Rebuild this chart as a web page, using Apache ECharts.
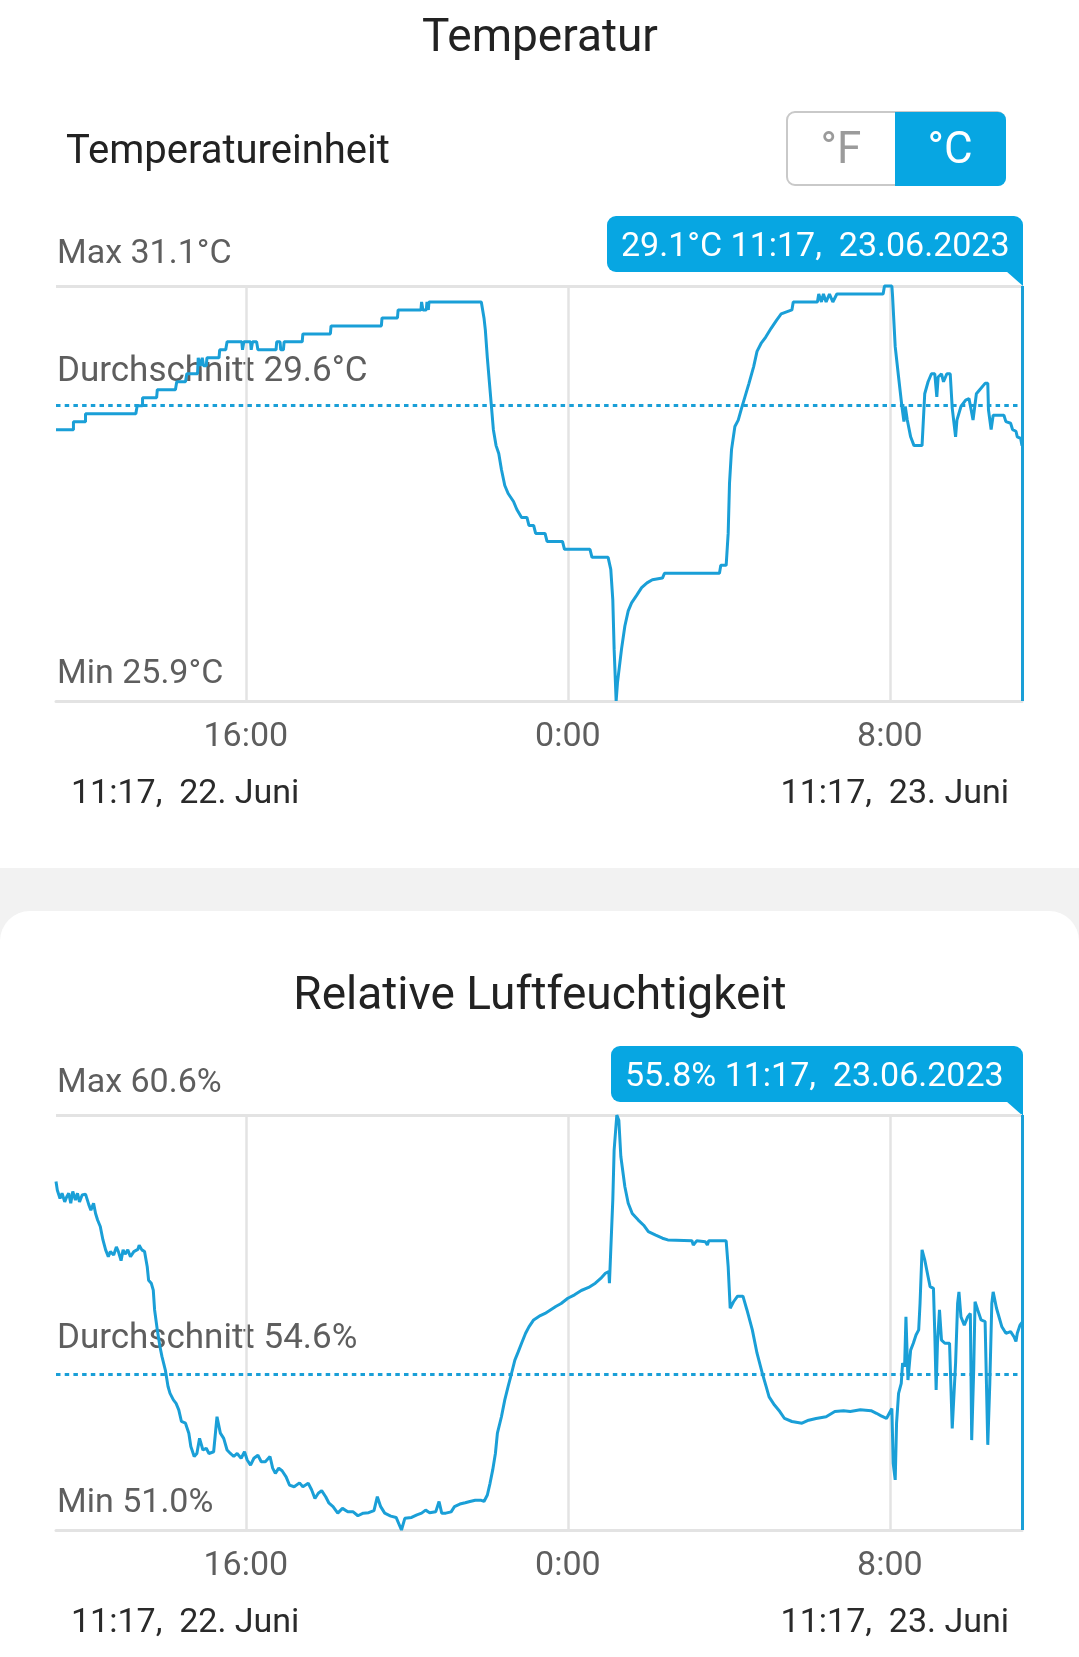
<!DOCTYPE html>
<html>
<head>
<meta charset="utf-8">
<title>Temperatur / Luftfeuchtigkeit</title>
<script src="https://cdn.jsdelivr.net/npm/echarts@6/dist/echarts.min.js"></script>
<style>
  html, body { margin: 0; padding: 0; background: #fff; }
  #chart { width: 1079px; height: 1657px; }
</style>
</head>
<body>
<div id="chart"></div>
<script>
// --- data (clock time, value) ---
const tempTimes = ['11:17', '11:43', '11:43', '12:01', '12:01', '13:16', '13:18', '13:26', '13:26', '13:47',
  '13:48', '14:15', '14:17', '14:30', '14:32', '14:48', '14:49', '14:52', '14:55', '14:57',
  '15:01', '15:02', '15:20', '15:21', '15:30', '15:32', '15:54', '15:55', '15:57', '16:07',
  '16:08', '16:10', '16:16', '16:18', '16:45', '16:46', '16:51', '16:52', '16:56', '16:57',
  '17:24', '17:25', '18:06', '18:07', '19:22', '19:23', '19:46', '19:47', '20:21', '20:22',
  '20:24', '20:29', '20:30', '20:32', '20:33', '21:51', '21:55', '21:57', '22:00', '22:03',
  '22:06', '22:09', '22:13', '22:17', '22:21', '22:26', '22:31', '22:39', '22:44', '22:51',
  '22:59', '23:02', '23:09', '23:12', '23:26', '23:29', '23:52', '23:55', '0:33', '0:36',
  '1:00', '1:04', '1:07', '1:09', '1:12', '1:14', '1:20', '1:25', '1:30', '1:35',
  '1:43', '1:50', '1:58', '2:06', '2:21', '2:24', '3:46', '3:48', '3:56', '3:59',
  '4:01', '4:04', '4:09', '4:14', '4:19', '4:24', '4:30', '4:37', '4:42', '4:48',
  '4:55', '5:03', '5:11', '5:18', '5:34', '5:36', '6:12', '6:14', '6:18', '6:21',
  '6:25', '6:30', '6:35', '6:41', '7:50', '7:52', '8:03', '8:04', '8:08', '8:13',
  '8:18', '8:21', '8:23', '8:26', '8:31', '8:36', '8:48', '8:52', '8:57', '9:02',
  '9:07', '9:10', '9:12', '9:17', '9:20', '9:25', '9:30', '9:33', '9:38', '9:40',
  '9:46', '9:53', '9:58', '10:04', '10:09', '10:14', '10:22', '10:26', '10:27', '10:31',
  '10:34', '10:50', '10:53', '11:00', '11:03', '11:08', '11:10', '11:15', '11:17'];
const tempValues = [29.3, 29.3, 29.4, 29.4, 29.5, 29.5, 29.6, 29.6, 29.7, 29.7,
  29.8, 29.8, 29.9, 29.9, 30.0, 30.0, 30.2, 30.1, 30.2, 30.1,
  30.1, 30.2, 30.2, 30.3, 30.3, 30.4, 30.4, 30.3, 30.4, 30.4,
  30.3, 30.4, 30.4, 30.3, 30.3, 30.4, 30.4, 30.3, 30.3, 30.4,
  30.4, 30.5, 30.5, 30.6, 30.6, 30.7, 30.7, 30.8, 30.8, 30.9,
  30.8, 30.8, 30.9, 30.8, 30.9, 30.9, 30.7, 30.55, 30.2, 29.9,
  29.6, 29.3, 29.1, 29.0, 28.8, 28.6, 28.5, 28.4, 28.3, 28.2,
  28.2, 28.1, 28.1, 28.0, 28.0, 27.9, 27.9, 27.8, 27.8, 27.7,
  27.7, 27.55, 27.17, 26.55, 25.9, 26.13, 26.55, 26.84, 27.03, 27.13,
  27.23, 27.32, 27.38, 27.42, 27.44, 27.5, 27.5, 27.6, 27.6, 28.0,
  28.63, 29.05, 29.34, 29.42, 29.57, 29.71, 29.88, 30.09, 30.28, 30.38,
  30.46, 30.57, 30.67, 30.75, 30.8, 30.9, 30.9, 31.0, 30.9, 31.0,
  30.9, 31.0, 30.9, 31.0, 31.0, 31.1, 31.1, 30.98, 30.34, 29.96,
  29.59, 29.4, 29.59, 29.42, 29.21, 29.1, 29.1, 29.75, 29.9, 30.0,
  30.0, 29.71, 29.96, 30.0, 29.9, 30.0, 30.0, 29.57, 29.21, 29.42,
  29.59, 29.67, 29.69, 29.42, 29.75, 29.8, 29.88, 29.88, 29.55, 29.3,
  29.48, 29.48, 29.4, 29.38, 29.3, 29.28, 29.21, 29.19, 29.1];

const humTimes = ['11:17', '11:19', '11:23', '11:26', '11:30', '11:33', '11:36', '11:39', '11:42', '11:46',
  '11:49', '11:52', '11:56', '12:01', '12:06', '12:09', '12:13', '12:16', '12:19', '12:23',
  '12:27', '12:31', '12:35', '12:38', '12:43', '12:47', '12:50', '12:54', '12:57', '13:00',
  '13:04', '13:08', '13:13', '13:19', '13:21', '13:25', '13:29', '13:33', '13:35', '13:39',
  '13:42', '13:44', '13:48', '13:52', '13:55', '14:00', '14:04', '14:07', '14:12', '14:16',
  '14:20', '14:24', '14:30', '14:35', '14:38', '14:43', '14:47', '14:51', '14:56', '15:01',
  '15:05', '15:12', '15:17', '15:22', '15:27', '15:32', '15:37', '15:42', '15:47', '15:53',
  '15:58', '16:02', '16:07', '16:12', '16:18', '16:23', '16:29', '16:36', '16:40', '16:44',
  '16:49', '16:54', '17:00', '17:05', '17:12', '17:20', '17:25', '17:33', '17:38', '17:43',
  '17:48', '17:53', '17:59', '18:04', '18:10', '18:17', '18:24', '18:32', '18:40', '18:47',
  '18:55', '19:03', '19:11', '19:16', '19:21', '19:27', '19:36', '19:44', '19:52', '19:57',
  '20:07', '20:15', '20:22', '20:28', '20:34', '20:43', '20:48', '20:52', '20:58', '21:06',
  '21:11', '21:19', '21:27', '21:34', '21:42', '21:50', '21:55', '22:00', '22:04', '22:08',
  '22:12', '22:15', '22:21', '22:26', '22:31', '22:36', '22:41', '22:46', '22:51', '22:57',
  '23:02', '23:09', '23:19', '23:26', '23:34', '23:42', '23:50', '0:00', '0:10', '0:20',
  '0:31', '0:41', '0:49', '0:56', '1:01', '1:02', '1:04', '1:07', '1:09', '1:13',
  '1:16', '1:19', '1:25', '1:30', '1:36', '1:45', '1:53', '2:00', '2:11', '2:21',
  '2:29', '3:05', '3:07', '3:12', '3:25', '3:28', '3:30', '3:56', '3:59', '4:02',
  '4:07', '4:13', '4:21', '4:27', '4:35', '4:42', '4:50', '4:55', '5:00', '5:08',
  '5:16', '5:23', '5:34', '5:49', '5:59', '6:10', '6:25', '6:38', '6:51', '7:01',
  '7:16', '7:32', '7:40', '7:47', '7:55', '8:03', '8:05', '8:08', '8:10', '8:13',
  '8:17', '8:19', '8:22', '8:24', '8:27', '8:31', '8:35', '8:39', '8:43', '8:45',
  '8:48', '8:52', '8:57', '9:00', '9:05', '9:07', '9:09', '9:11', '9:14', '9:17',
  '9:22', '9:29', '9:33', '9:38', '9:41', '9:43', '9:46', '9:51', '9:56', '10:00',
  '10:02', '10:05', '10:07', '10:11', '10:16', '10:22', '10:26', '10:29', '10:32', '10:34',
  '10:39', '10:47', '10:53', '11:00', '11:05', '11:08', '11:10', '11:14', '11:17'];
const humValues = [59.06, 58.86, 58.67, 58.79, 58.59, 58.71, 58.79, 58.56, 58.83, 58.63,
  58.79, 58.59, 58.75, 58.77, 58.52, 58.40, 58.56, 58.32, 58.17, 58.02,
  57.71, 57.48, 57.32, 57.44, 57.36, 57.55, 57.44, 57.23, 57.48, 57.38,
  57.48, 57.32, 57.44, 57.49, 57.59, 57.48, 57.44, 57.09, 56.78, 56.71,
  56.55, 56.09, 55.63, 55.24, 55.01, 54.70, 54.32, 54.16, 54.01, 53.93,
  53.78, 53.51, 53.47, 53.24, 52.93, 52.70, 52.77, 53.12, 52.85, 52.89,
  52.77, 52.81, 53.62, 53.24, 53.12, 52.85, 52.77, 52.70, 52.77, 52.66,
  52.81, 52.62, 52.50, 52.66, 52.73, 52.58, 52.58, 52.70, 52.43, 52.31,
  52.43, 52.37, 52.23, 52.04, 52.00, 52.09, 52.00, 52.08, 51.93, 51.73,
  51.85, 51.91, 51.77, 51.62, 51.54, 51.39, 51.50, 51.42, 51.42, 51.33,
  51.39, 51.40, 51.45, 51.77, 51.54, 51.39, 51.32, 51.29, 51.00, 51.27,
  51.29, 51.35, 51.39, 51.46, 51.40, 51.42, 51.66, 51.39, 51.39, 51.42,
  51.54, 51.60, 51.63, 51.66, 51.69, 51.69, 51.66, 51.81, 52.08, 52.39,
  52.77, 53.24, 53.62, 54.01, 54.32, 54.62, 54.93, 55.12, 55.32, 55.55,
  55.70, 55.86, 55.96, 56.01, 56.09, 56.17, 56.24, 56.36, 56.44, 56.54,
  56.61, 56.71, 56.82, 56.94, 56.98, 56.71, 57.48, 58.63, 59.79, 60.6,
  60.48, 59.64, 58.94, 58.56, 58.32, 58.17, 58.05, 57.90, 57.82, 57.75,
  57.71, 57.69, 57.59, 57.69, 57.67, 57.59, 57.69, 57.69, 57.09, 56.13,
  56.28, 56.41, 56.41, 56.09, 55.63, 55.09, 54.62, 54.35, 54.08, 53.89,
  53.74, 53.58, 53.51, 53.47, 53.54, 53.58, 53.62, 53.74, 53.76, 53.74,
  53.78, 53.76, 53.70, 53.64, 53.58, 53.81, 52.54, 52.16, 53.47, 54.16,
  54.39, 54.86, 54.78, 55.93, 54.47, 55.16, 55.32, 55.51, 55.63, 56.24,
  57.48, 57.25, 56.86, 56.63, 56.59, 55.55, 54.24, 55.32, 56.09, 55.39,
  55.32, 55.32, 53.35, 54.86, 56.24, 56.51, 55.93, 55.74, 55.93, 56.01,
  53.08, 54.70, 56.28, 56.09, 55.86, 55.82, 52.97, 54.39, 56.24, 56.51,
  56.13, 55.70, 55.55, 55.59, 55.47, 55.36, 55.55, 55.74, 55.8];

// min / average / max as shown by the app
const tempStats = [25.9, 29.6, 31.1];
const humStats = [51.0, 54.6, 60.6];

const xTickValues = [16, 24, 32];
const xTickLabels = ['16:00', '0:00', '8:00'];
const rangeLabels = ['11:17,  22. Juni', '11:17,  23. Juni'];
const lastStamp = '11:17,  23.06.2023';

// clock strings -> hours on a continuous scale (next day = +24)
function toHours(times) {
  let prev = -1, day = 0;
  return times.map(function (t) {
    const p = t.split(':');
    const v = Number(p[0]) + Number(p[1]) / 60;
    if (v < prev) day = 24;
    prev = v;
    return v + day;
  });
}

const tempHours = toHours(tempTimes);
const humHours = toHours(humTimes);
const startH = tempHours[0];
const endH = tempHours[tempHours.length - 1];

const FONT = 'Roboto, "Noto Sans", sans-serif';
const BLUE = '#07a6e2';
const LINE = '#1a9fd7';
const GRID = '#e3e3e3';
const LABEL = '#5e5e5e';

const chart = echarts.init(document.getElementById('chart'));

function xAxisFor(i) {
  return {
    type: 'value', gridIndex: i, min: startH, max: endH,
    axisLine: { show: true, lineStyle: { color: GRID, width: 3 } },
    axisTick: { show: false },
    splitLine: { show: false },
    axisLabel: {
      customValues: xTickValues,
      formatter: function (v) { return xTickLabels[xTickValues.indexOf(v)]; },
      color: LABEL, fontSize: 34, fontFamily: FONT, margin: 19
    }
  };
}

function gridSeries(i, top) {
  return {
    type: 'line', xAxisIndex: i, yAxisIndex: i, data: [], silent: true,
    markLine: {
      silent: true, symbol: 'none', z: 1, animation: false,
      label: { show: false },
      lineStyle: { color: GRID, width: 2.5, type: 'solid' },
      data: xTickValues.map(function (v) { return { xAxis: v }; }).concat([{ yAxis: top, lineStyle: { width: 3 } }])
    }
  };
}

function dataSeries(i, hours, values, avg) {
  return {
    type: 'line', xAxisIndex: i, yAxisIndex: i, z: 3,
    data: hours.map(function (h, k) { return [h, values[k]]; }),
    showSymbol: false, symbol: 'none', clip: false,
    lineStyle: { color: LINE, width: 3 },
    markLine: {
      silent: true, symbol: 'none', z: 2, animation: false,
      label: { show: false },
      data: [
        { yAxis: avg, lineStyle: { color: LINE, width: 3, type: [4.5, 4.2] } },
        { xAxis: endH, lineStyle: { color: LINE, width: 3, type: 'solid' } }
      ]
    }
  };
}

chart.setOption({
  animation: false,
  textStyle: { fontFamily: FONT },
  grid: [
    { left: 56, width: 966, top: 286, height: 415 },
    { left: 56, width: 966, top: 1115, height: 415 }
  ],
  xAxis: [xAxisFor(0), xAxisFor(1)],
  yAxis: [
    { type: 'value', gridIndex: 0, min: tempStats[0], max: tempStats[2], show: false },
    { type: 'value', gridIndex: 1, min: humStats[0], max: humStats[2], show: false }
  ],
  series: [
    gridSeries(0, tempStats[2]),
    gridSeries(1, humStats[2]),
    dataSeries(0, tempHours, tempValues, tempStats[1]),
    dataSeries(1, humHours, humValues, humStats[1])
  ]
});

function txt(text, x, y, size, color, align) {
  return {
    type: 'text', x: x, y: y, silent: true,
    style: { text: text, fill: color, fontSize: size, fontFamily: FONT, align: align || 'left', verticalAlign: 'middle' }
  };
}

function bubble(text, x, y, w, h) {
  const r = x + w, b = y + h;
  return [
    { type: 'rect', silent: true, shape: { x: x, y: y, width: w, height: h, r: [9, 9, 0, 9] }, style: { fill: BLUE } },
    { type: 'polygon', silent: true, shape: { points: [[r - 17, b - 1], [r, b - 1], [r, b + 14]] }, style: { fill: BLUE } },
    txt(text, x + 14, y + h / 2 + 3, 34, '#fff')
  ];
}

const tAvgY = chart.convertToPixel({ yAxisIndex: 0 }, tempStats[1]);
const hAvgY = chart.convertToPixel({ yAxisIndex: 1 }, humStats[1]);

const g = [
  // header
  txt('Temperatur', 540, 39, 46, '#222', 'center'),
  txt('Temperatureinheit', 66, 153, 40, '#222'),
  { type: 'rect', silent: true, shape: { x: 787, y: 112, width: 218, height: 73, r: 8 }, style: { fill: '#fff', stroke: '#c9c9c9', lineWidth: 2 } },
  { type: 'rect', silent: true, shape: { x: 895, y: 112, width: 111, height: 74, r: [0, 8, 8, 0] }, style: { fill: BLUE } },
  txt('°F', 841, 152, 44, '#9b9b9b', 'center'),
  txt('°C', 950, 152, 44, '#fff', 'center'),

  // temperature chart labels
  txt('Max ' + tempStats[2].toFixed(1) + '°C', 57, 254, 34, LABEL),
  txt('Durchschnitt ' + tempStats[1].toFixed(1) + '°C', 57, tAvgY - 33, 35, LABEL),
  txt('Min ' + tempStats[0].toFixed(1) + '°C', 57, 674, 34, LABEL),
  txt(rangeLabels[0], 71, 794, 34, '#2a2a2a'),
  txt(rangeLabels[1], 1009, 794, 34, '#2a2a2a', 'right'),

  // separator band + card
  { type: 'rect', silent: true, shape: { x: 0, y: 868, width: 1079, height: 80 }, style: { fill: '#f2f2f2' } },
  { type: 'rect', silent: true, shape: { x: 0, y: 911, width: 1079, height: 746, r: [30, 30, 0, 0] }, style: { fill: '#fff' } },

  // humidity chart labels
  txt('Relative Luftfeuchtigkeit', 540, 997, 46, '#222', 'center'),
  txt('Max ' + humStats[2].toFixed(1) + '%', 57, 1083, 34, LABEL),
  txt('Durchschnitt ' + humStats[1].toFixed(1) + '%', 57, hAvgY - 35, 35, LABEL),
  txt('Min ' + humStats[0].toFixed(1) + '%', 57, 1503, 34, LABEL),
  txt(rangeLabels[0], 71, 1623, 34, '#2a2a2a'),
  txt(rangeLabels[1], 1009, 1623, 34, '#2a2a2a', 'right')
]
  .concat(bubble(tempValues[tempValues.length - 1].toFixed(1) + '°C ' + lastStamp, 607, 216, 416, 56))
  .concat(bubble(humValues[humValues.length - 1].toFixed(1) + '% ' + lastStamp, 611, 1046, 412, 56));

chart.setOption({ graphic: g });
</script>
</body>
</html>
